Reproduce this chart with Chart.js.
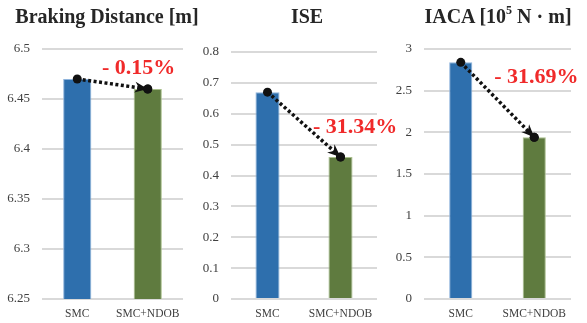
<!DOCTYPE html>
<html>
<head>
<meta charset="utf-8">
<script src="https://cdn.jsdelivr.net/npm/chart.js@4/dist/chart.umd.min.js"></script>
<style>
  html, body { margin: 0; padding: 0; background: #ffffff; overflow: hidden; }
  #wrap { position: relative; width: 587px; height: 323px; overflow: hidden; }
  #wrap canvas { position: absolute; top: 0; }
  .title {
    position: absolute; top: 4px; width: 240px; text-align: center;
    font-family: 'Liberation Serif', 'Times New Roman', serif;
    font-weight: bold; font-size: 20px; line-height: 24px; color: #262626;
    white-space: nowrap;
  }
  .title sup { font-size: 12px; line-height: 0; position: relative; top: -1px; }
</style>
</head>
<body>
<div id="wrap">
  <canvas id="c1" width="195" height="323" style="left:0px"></canvas>
  <canvas id="c2" width="210" height="323" style="left:195px"></canvas>
  <canvas id="c3" width="197" height="323" style="left:390px"></canvas>
  <div class="title" style="left:-13px">Braking Distance [m]</div>
  <div class="title" style="left:187px">ISE</div>
  <div class="title" style="left:378px">IACA [10<sup>5</sup> N &middot; m]</div>
</div>
<script>
// Controllers compared in every panel
const categories = ['SMC', 'SMC+NDOB'];

// Measured results per controller
const brakingDistance = [6.47, 6.46];
const iseValues = [0.67, 0.46];
const iacaValues = [2.84, 1.94];

// Y-axis tick values per panel
const brakingTicks = [6.25, 6.3, 6.35, 6.4, 6.45, 6.5];
const iseTicks = [0, 0.1, 0.2, 0.3, 0.4, 0.5, 0.6, 0.7, 0.8];
const iacaTicks = [0, 0.5, 1, 1.5, 2, 2.5, 3];

const SERIF = "'Liberation Serif', 'Times New Roman', serif";
const BAR_COLORS = ['#2e6fad', '#5f7b3f'];

// Percentage change from the first to the second controller
function changeLabel(values) {
  const pct = (values[1] - values[0]) / values[0] * 100;
  return (pct < 0 ? '- ' : '+ ') + Math.abs(pct).toFixed(2) + '%';
}

// Draws the arrowhead at the end of the dotted trend line and the change label
const trendPlugin = {
  id: 'trend',
  afterDatasetsDraw(chart, args, opts) {
    const ctx = chart.ctx;
    const meta = chart.getDatasetMeta(1);
    const p0 = meta.data[0], p1 = meta.data[1];
    const ang = Math.atan2(p1.y - p0.y, p1.x - p0.x);
    const len = 13, half = 5.5, notch = 4;
    ctx.save();
    ctx.translate(p1.x, p1.y);
    ctx.rotate(ang);
    ctx.fillStyle = '#111111';
    ctx.beginPath();
    ctx.moveTo(0, 0);
    ctx.lineTo(-len, -half);
    ctx.lineTo(-len + notch, 0);
    ctx.lineTo(-len, half);
    ctx.closePath();
    ctx.fill();
    ctx.beginPath();
    ctx.arc(0, 0, 4.5, 0, Math.PI * 2);
    ctx.fill();
    ctx.restore();

    const xs = chart.scales.x, ys = chart.scales.y;
    const lx = xs.getPixelForValue(opts.at[0]);
    const ly = ys.getPixelForValue(opts.at[1]);
    ctx.save();
    ctx.font = 'bold 22px ' + SERIF;
    ctx.fillStyle = '#f02a2a';
    ctx.textAlign = 'center';
    ctx.textBaseline = 'middle';
    ctx.fillText(changeLabel(opts.values), lx, ly);
    ctx.restore();
  }
};

function makePanel(id, values, ticks, p) {
  new Chart(document.getElementById(id), {
    type: 'bar',
    data: {
      labels: categories,
      datasets: [
        {
          type: 'bar',
          data: values,
          backgroundColor: BAR_COLORS,
          borderColor: ['#8fb4dc', '#a9bf8c'],
          borderWidth: 1,
          categoryPercentage: 1,
          barPercentage: p.barPct,
          order: 2
        },
        {
          type: 'line',
          data: values,
          borderColor: '#111111',
          borderWidth: 3.5,
          borderDash: [3, 2.5],
          pointRadius: 4.5,
          pointBackgroundColor: '#111111',
          pointBorderWidth: 0,
          fill: false,
          tension: 0,
          order: 1
        }
      ]
    },
    options: {
      responsive: false,
      animation: false,
      devicePixelRatio: 1,
      layout: { padding: { top: p.top, left: 0, right: p.padRight, bottom: 0 } },
      plugins: {
        legend: { display: false },
        tooltip: { enabled: false },
        title: { display: false },
        trend: { values: values, at: p.labelAt }
      },
      scales: {
        x: {
          grid: { display: false, drawTicks: false },
          border: { display: false },
          ticks: { color: '#404040', font: { family: SERIF, size: 11.5 }, padding: 8, maxRotation: 0 },
          afterFit(scale) { scale.height = 24; }
        },
        y: {
          min: ticks[0],
          max: ticks[ticks.length - 1],
          afterBuildTicks(scale) { scale.ticks = ticks.map(v => ({ value: v })); },
          grid: { color: '#d9d9d9', lineWidth: 2, drawTicks: false },
          border: { display: false },
          ticks: {
            color: '#404040',
            font: { family: SERIF, size: 13 },
            padding: 12,
            callback: v => String(+Number(v).toFixed(2))
          },
          afterFit(scale) { scale.width = p.axisWidth; }
        }
      }
    },
    plugins: [trendPlugin]
  });
}

makePanel('c1', brakingDistance, brakingTicks,
  { axisWidth: 42, padRight: 12, top: 49, barPct: 0.4, labelAt: [0.87, 6.481] });
makePanel('c2', iseValues, iseTicks,
  { axisWidth: 36, padRight: 28, top: 52, barPct: 0.33, labelAt: [1.2, 0.557] });
makePanel('c3', iacaValues, iacaTicks,
  { axisWidth: 34, padRight: 16, top: 49, barPct: 0.315, labelAt: [1.03, 2.664] });
</script>
</body>
</html>
